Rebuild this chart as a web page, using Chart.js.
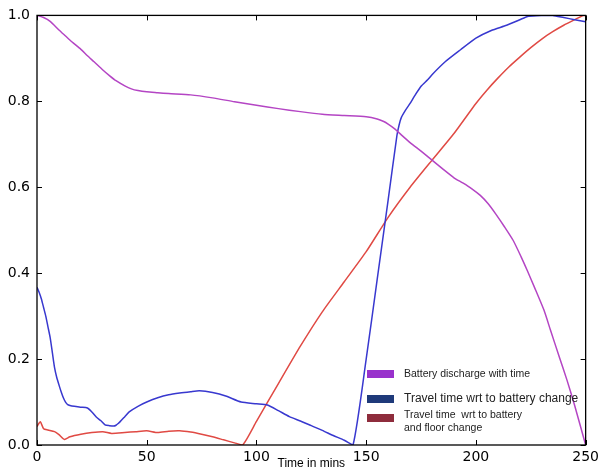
<!DOCTYPE html>
<html>
<head>
<meta charset="utf-8">
<script src="https://cdn.jsdelivr.net/npm/chart.js@4.4.1/dist/chart.umd.min.js"></script>
<style>
  html, body { margin: 0; padding: 0; background: #fff; }
  #wrap { position: relative; width: 603px; height: 472px; }
  canvas { position: absolute; left: 0; top: 0; }
  .lg-box { position: absolute; width: 27px; height: 8px; }
  .lg-txt { position: absolute; font-family: "Liberation Sans", Arial, sans-serif; color: #222; white-space: pre; }
</style>
</head>
<body>
<div id="wrap">
  <canvas id="c" width="603" height="472"></canvas>
  <div class="lg-box" style="left:367px;top:370px;background:#9932cc;"></div>
  <div class="lg-txt" id="l1" style="left:404px;top:367px;font-size:10.5px;line-height:12px;"></div>
  <div class="lg-box" style="left:367px;top:395px;background:#1f3a7a;"></div>
  <div class="lg-txt" id="l2" style="left:404px;top:391px;font-size:12px;line-height:14px;"></div>
  <div class="lg-box" style="left:367px;top:414px;background:#8e2c3c;"></div>
  <div class="lg-txt" id="l3" style="left:404px;top:408px;font-size:10.5px;line-height:13px;"></div>
</div>
<script>
// ---- Data ----
const xTicks = [0, 50, 100, 150, 200, 250];
const yTicks = [0.0, 0.2, 0.4, 0.6, 0.8, 1.0];
const axisTitle = "Time in mins";
const legendLabels = [
  "Battery discharge with time",
  "Travel time wrt to battery change",
  "Travel time  wrt to battery\nand floor change"
];

const batteryX = [0, 3, 6, 10, 13, 16, 20, 23, 26, 30, 33, 36, 40, 43, 46, 50, 55, 60, 70, 80, 90, 100, 110, 120, 130, 140, 150, 155, 158, 160, 163, 166, 170, 175, 180, 185, 190, 194, 198, 202, 205.5, 209, 213, 217, 220.6, 223.5, 226.6, 231, 234, 238, 241.5, 245, 250];
const batteryY = [1.0, 0.995, 0.986, 0.966, 0.952, 0.938, 0.921, 0.906, 0.892, 0.873, 0.86, 0.848, 0.836, 0.829, 0.825, 0.822, 0.82, 0.818, 0.815, 0.808, 0.799, 0.791, 0.783, 0.776, 0.77, 0.767, 0.764, 0.759, 0.753, 0.747, 0.736, 0.722, 0.704, 0.684, 0.663, 0.642, 0.622, 0.61, 0.597, 0.581, 0.562, 0.538, 0.508, 0.476, 0.438, 0.405, 0.368, 0.314, 0.267, 0.205, 0.151, 0.092, 0.0];

const travelX = [0, 1, 2, 3, 4, 5, 6, 7, 8, 9, 10, 11, 12, 13, 14, 15, 17, 20, 23, 25, 27, 29, 31, 33, 35, 36, 37, 38, 40, 42, 46, 50, 55, 60, 65, 70, 74, 80, 86, 93, 100, 105, 110, 115, 120, 125, 130, 135, 140, 144, 150, 155, 160, 164, 165, 166, 168, 170, 172, 175, 178, 180, 186, 193, 200, 207, 214, 220, 224, 230, 235, 240, 245, 250];
const travelY = [0.367, 0.355, 0.34, 0.32, 0.3, 0.275, 0.25, 0.215, 0.18, 0.157, 0.14, 0.124, 0.11, 0.1, 0.094, 0.092, 0.09, 0.088, 0.086, 0.077, 0.065, 0.057, 0.047, 0.045, 0.044, 0.046, 0.05, 0.055, 0.066, 0.077, 0.09, 0.1, 0.11, 0.117, 0.121, 0.124, 0.126, 0.122, 0.114, 0.1, 0.096, 0.093, 0.08, 0.066, 0.056, 0.045, 0.034, 0.022, 0.011, 0.0, 0.2, 0.385, 0.57, 0.72, 0.745, 0.762, 0.78, 0.795, 0.812, 0.835, 0.85, 0.862, 0.892, 0.92, 0.947, 0.965, 0.977, 0.99, 0.998, 1.0, 1.0, 0.995, 0.99, 0.985];

const floorX = [0, 1.5, 3, 5, 8, 10, 12.5, 15, 20, 25, 30, 34, 40, 45, 50, 55, 60, 65, 70, 75, 80, 85, 90, 93.7, 100, 110, 120, 130, 140, 150, 160, 170, 180, 190, 200, 205, 210, 215, 220, 225, 230, 235, 240, 245, 249, 250];
const floorY = [0.043, 0.054, 0.038, 0.035, 0.031, 0.024, 0.013, 0.019, 0.025, 0.029, 0.031, 0.027, 0.029, 0.031, 0.033, 0.029, 0.032, 0.033, 0.03, 0.025, 0.019, 0.012, 0.005, 0.0, 0.055, 0.143, 0.23, 0.31, 0.38, 0.45, 0.53, 0.6, 0.663, 0.725, 0.795, 0.826, 0.854, 0.88, 0.903, 0.925, 0.945, 0.962, 0.977, 0.99, 1.0, 1.0];

document.getElementById('l1').textContent = legendLabels[0];
document.getElementById('l2').textContent = legendLabels[1];
document.getElementById('l3').textContent = legendLabels[2];

const pts = (xs, ys) => xs.map((x, i) => ({ x: x, y: ys[i] }));

const frameTicks = {
  id: 'frameTicks',
  afterDatasetsDraw(chart) {
    const { ctx, chartArea: a, scales: { x, y } } = chart;
    ctx.save();
    ctx.strokeStyle = '#000';
    ctx.lineWidth = 1;
    ctx.beginPath();
    xTicks.forEach(v => {
      const px = Math.round(x.getPixelForValue(v)) + 0.5;
      ctx.moveTo(px, a.bottom); ctx.lineTo(px, a.bottom - 5);
      ctx.moveTo(px, a.top); ctx.lineTo(px, a.top + 5);
    });
    yTicks.forEach(v => {
      const py = Math.round(y.getPixelForValue(v)) + 0.5;
      ctx.moveTo(a.left, py); ctx.lineTo(a.left + 5, py);
      ctx.moveTo(a.right, py); ctx.lineTo(a.right - 5, py);
    });
    ctx.stroke();
    ctx.lineWidth = 1.3;
    ctx.strokeRect(a.left, a.top, a.right - a.left, a.bottom - a.top);
    ctx.restore();
  }
};

const lineOpts = { pointRadius: 0, borderWidth: 1.5, fill: false, tension: 0.2, borderJoinStyle: 'round' };

new Chart(document.getElementById('c'), {
  type: 'line',
  data: {
    datasets: [
      Object.assign({ label: legendLabels[0], data: pts(batteryX, batteryY), borderColor: '#b445c4' }, lineOpts),
      Object.assign({ label: legendLabels[1], data: pts(travelX, travelY), borderColor: '#3838cf' }, lineOpts),
      Object.assign({ label: legendLabels[2], data: pts(floorX, floorY), borderColor: '#e04a44' }, lineOpts)
    ]
  },
  options: {
    responsive: false,
    animation: false,
    devicePixelRatio: 1,
    layout: { padding: { top: 15, right: 11, left: 0, bottom: 0 } },
    plugins: { legend: { display: false }, tooltip: { enabled: false } },
    scales: {
      x: {
        type: 'linear', min: 0, max: 250,
        afterBuildTicks: s => { s.ticks = xTicks.map(v => ({ value: v })); },
        ticks: { font: { family: 'DejaVu Sans', size: 14 }, color: '#000', padding: 4, maxRotation: 0 },
        grid: { display: false, drawTicks: false },
        border: { display: false },
        title: { display: true, text: axisTitle, color: '#000', font: { family: 'Liberation Sans', size: 12 }, padding: { top: 0, bottom: 1 } },
        afterFit: s => { s.height = 27; }
      },
      y: {
        type: 'linear', min: 0, max: 1,
        afterBuildTicks: s => { s.ticks = yTicks.map(v => ({ value: v })); },
        ticks: { font: { family: 'DejaVu Sans', size: 14 }, color: '#000', padding: 7, callback: v => Number(v).toFixed(1) },
        grid: { display: false, drawTicks: false },
        border: { display: false },
        afterFit: s => { s.width = 37; }
      }
    }
  },
  plugins: [frameTicks]
});
</script>
</body>
</html>
